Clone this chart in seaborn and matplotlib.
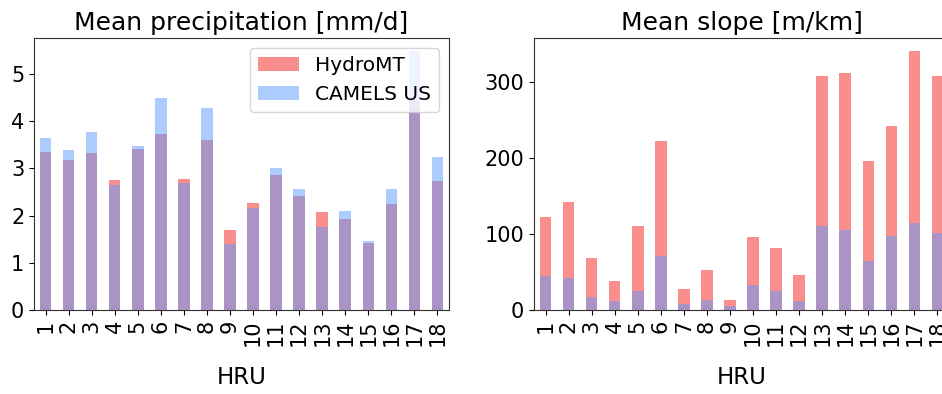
import matplotlib
matplotlib.use("Agg")
import matplotlib.pyplot as plt
import seaborn as sns
import pandas as pd

hru = [str(i) for i in range(1, 19)]
precip_hydromt = [3.35, 3.17, 3.32, 2.75, 3.40, 3.73, 2.77, 3.60, 1.69, 2.26,
                  2.85, 2.41, 2.07, 1.92, 1.41, 2.24, 4.45, 2.73]
precip_camels = [3.64, 3.38, 3.78, 2.64, 3.47, 4.49, 2.70, 4.27, 1.39, 2.15,
                 3.00, 2.56, 1.75, 2.09, 1.46, 2.56, 5.49, 3.24]
slope_hydromt = [123, 142, 68, 37.6, 110, 222, 28, 53, 13.5, 95.6,
                 81, 46.7, 308, 312, 196, 242, 341, 308]
slope_camels = [44.5, 41.5, 16.6, 11.4, 24.5, 70.7, 7.4, 12.7, 4.8, 32.8,
                24.5, 11.4, 110, 105, 64, 97, 114, 101]

red = (244/255, 4/255, 0.0)
blue = (91/255, 153/255, 1.0)

W, H = 942, 394
fig = plt.figure(figsize=(W/100, H/100), dpi=100)
ax1 = fig.add_axes([34/W, (H-310)/H, 415/W, 272/H])
ax2 = fig.add_axes([534/W, (H-310)/H, 415/W, 272/H])

df = pd.DataFrame({"HRU": hru, "p_h": precip_hydromt, "p_c": precip_camels,
                   "s_h": slope_hydromt, "s_c": slope_camels})

for ax, (ch, cc), title in [(ax1, ("p_h", "p_c"), "Mean precipitation [mm/d]"),
                            (ax2, ("s_h", "s_c"), "Mean slope [m/km]")]:
    sns.barplot(data=df, x="HRU", y=ch, color=red, alpha=0.45, saturation=1,
                width=0.5, linewidth=0, ax=ax, label="HydroMT")
    sns.barplot(data=df, x="HRU", y=cc, color=blue, alpha=0.5, saturation=1,
                width=0.5, linewidth=0, ax=ax, label="CAMELS US")
    ax.set_title(title, fontsize=18, pad=6)
    ax.set_xlabel("HRU", fontsize=16.5, labelpad=14)
    ax.set_ylabel("")
    ax.tick_params(axis="both", labelsize=15)
    ax.tick_params(axis="x", labelrotation=90)
    ax.set_xlim(-0.5, 17.5)
    for s in ax.spines.values():
        s.set_visible(True)
        s.set_color("#333333")

ax1.set_ylim(0, 5.76)
ax1.set_yticks([0, 1, 2, 3, 4, 5])
ax2.set_ylim(0, 358)
ax2.set_yticks([0, 100, 200, 300])

ax1.legend(loc="upper right", fontsize=14.5, framealpha=0.8)
leg2 = ax2.get_legend()
if leg2 is not None:
    leg2.remove()

fig.savefig("out.png", dpi=100)
